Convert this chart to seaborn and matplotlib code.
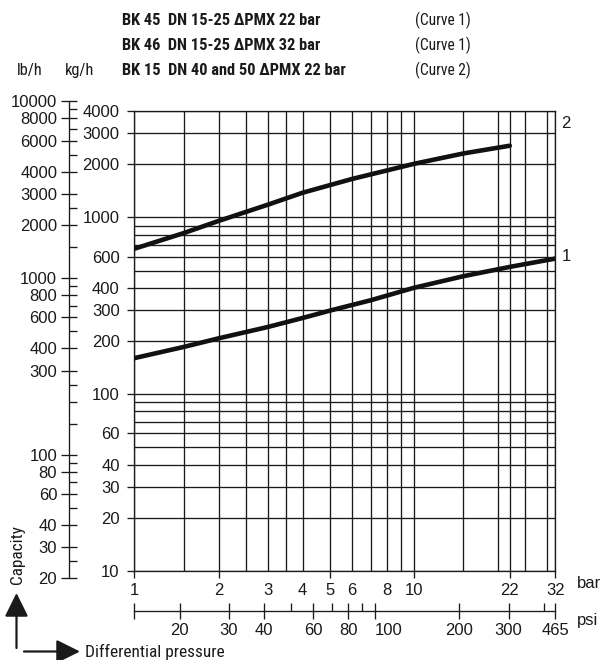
import matplotlib
matplotlib.use("Agg")
import numpy as np
import pandas as pd
import seaborn as sns
import matplotlib.pyplot as plt
from matplotlib.ticker import NullFormatter, NullLocator
from matplotlib.patches import FancyArrowPatch
from matplotlib.transforms import blended_transform_factory

# ---------------- data ----------------
bar_c1 = [1, 1.5, 2, 3, 4, 5, 7, 10, 15, 22, 32]
kg_c1 = [160, 185, 207, 240, 270, 297, 340, 400, 465, 525, 585]
bar_c2 = [1, 1.5, 2, 3, 4, 6, 10, 15, 22]
kg_c2 = [665, 815, 955, 1180, 1380, 1650, 2010, 2300, 2545]

x_grid = [1, 1.5, 2, 2.5, 3, 3.5, 4, 5, 6, 7, 8, 9, 10, 15, 20, 22, 25, 30, 32]
x_labels = [1, 2, 3, 4, 5, 6, 8, 10, 22, 32]
x_marks = [1, 2, 5, 10, 22, 32]
y_grid = [10, 20, 30, 40, 50, 60, 70, 80, 90, 100, 200, 300, 400, 500, 600,
          700, 800, 900, 1000, 2000, 3000, 4000]
y_labels = [10, 20, 30, 40, 60, 100, 200, 300, 400, 600, 1000, 2000, 3000, 4000]
lb_labels = [20, 30, 40, 60, 80, 100, 300, 400, 600, 800, 1000, 2000, 3000,
             4000, 6000, 8000, 10000]
lb_minor = [25, 50, 70, 90, 150, 200, 250, 500, 700, 900, 1500, 2500, 5000,
            7000, 9000]
psi_labels = [20, 30, 40, 60, 80, 100, 200, 300]
psi_minor = [50, 70, 90, 400]
psi_end = 465
PSI_PER_BAR = 13.77
KG_TO_LB = 2.2046

header_models = ["BK 45  DN 15-25 \u0394PMX 22 bar",
                 "BK 46  DN 15-25 \u0394PMX 32 bar",
                 "BK 15  DN 40 and 50 \u0394PMX 22 bar"]
header_curves = ["(Curve 1)", "(Curve 1)", "(Curve 2)"]
curve_names = ["1", "2"]
curve_label_y = [600, 3400]

df = pd.concat([
    pd.DataFrame({"bar": bar_c1, "kg": kg_c1, "curve": "1"}),
    pd.DataFrame({"bar": bar_c2, "kg": kg_c2, "curve": "2"}),
])

# ---------------- style ----------------
sns.set_theme(style="white")
FONT_R = ["Liberation Sans", "DejaVu Sans"]
FONT_N = ["Roboto Condensed", "DejaVu Sans"]
plt.rcParams["font.family"] = FONT_R
INK = "#1a1a1a"
GLW = 0.95

W, H = 603, 660
fig = plt.figure(figsize=(W / 100, H / 100), dpi=100)
fig.patch.set_facecolor("white")

L, R, T, Bt = 134.3, 555.3, 111.0, 571.0
ax = fig.add_axes([L / W, 1 - Bt / H, (R - L) / W, (Bt - T) / H])
ax.set_facecolor("white")

sns.lineplot(data=df, x="bar", y="kg", hue="curve", palette=["#111111", "#111111"],
             legend=False, lw=3.3, ax=ax, zorder=5)
ax.set_xscale("log")
ax.set_yscale("log")
ax.set_xlim(1, 32)
ax.set_ylim(10, 4000)
ax.set_xlabel("")
ax.set_ylabel("")

ax.xaxis.remove_overlapping_locs = False
ax.yaxis.remove_overlapping_locs = False
ax.set_xticks(x_labels, labels=[str(v) for v in x_labels])
ax.set_xticks(x_grid, minor=True)
ax.xaxis.set_minor_formatter(NullFormatter())
ax.set_yticks(y_labels, labels=[str(v) for v in y_labels])
ax.set_yticks(y_grid, minor=True)
ax.yaxis.set_minor_formatter(NullFormatter())

ax.tick_params(axis="x", which="major", length=0, pad=8.5, labelsize=12, colors=INK)
ax.tick_params(axis="y", which="major", length=5, width=GLW, direction="out",
               pad=5.5, labelsize=12, colors=INK, left=True)
ax.tick_params(which="minor", length=0)
ax.grid(False, which="major")
ax.grid(True, which="minor", axis="both", color=INK, lw=GLW)
for s in ax.spines.values():
    s.set_visible(True)
    s.set_color(INK)
    s.set_linewidth(GLW)

# tick marks below bar axis
secm = ax.secondary_xaxis("bottom")
secm.set_xticks(x_marks, labels=[""] * len(x_marks))
secm.xaxis.set_minor_locator(NullLocator())
secm.tick_params(length=5, width=GLW, direction="out", colors=INK)
secm.spines["bottom"].set_visible(False)

# psi axis
psi_axis_y = -(611 - Bt) / (Bt - T)
sec = ax.secondary_xaxis(psi_axis_y)
pos = [1] + [p / PSI_PER_BAR for p in psi_labels] + [32]
labs = [""] + [str(p) for p in psi_labels] + [str(psi_end)]
sec.set_xticks(pos, labels=labs)
sec.set_xticks([p / PSI_PER_BAR for p in psi_minor], minor=True)
sec.xaxis.set_minor_formatter(NullFormatter())
sec.tick_params(which="major", direction="inout", length=12, width=GLW, pad=2.5,
                labelsize=12, colors=INK)
sec.tick_params(which="minor", direction="in", length=6, width=GLW, colors=INK)
sec.spines["bottom"].set_color(INK)
sec.spines["bottom"].set_linewidth(GLW)
for t in sec.get_xticklabels():
    if t.get_text() == "100":
        t.set_horizontalalignment("left")

# lb/h axis
def frac(v):
    return (np.log10(v) - np.log10(10)) / (np.log10(4000) - np.log10(10))

b0 = 1 - Bt / H
hh = (Bt - T) / H
lb_bot = b0 + frac(lb_labels[0] / KG_TO_LB) * hh
lb_top = b0 + frac(lb_labels[-1] / KG_TO_LB) * hh
axl = fig.add_axes([69 / W, lb_bot, 0.0001, lb_top - lb_bot])
axl.set_facecolor("none")
axl.set_yscale("log")
axl.set_ylim(lb_labels[0], lb_labels[-1])
axl.set_yticks(lb_labels, labels=[str(v) for v in lb_labels])
axl.set_yticks(lb_minor, minor=True)
axl.yaxis.set_minor_formatter(NullFormatter())
axl.xaxis.set_visible(False)
for k in ["top", "right", "bottom"]:
    axl.spines[k].set_visible(False)
axl.spines["left"].set_color(INK)
axl.spines["left"].set_linewidth(GLW)
axl.tick_params(axis="y", which="major", direction="inout", length=11, width=GLW,
                pad=3, labelsize=12, colors=INK, left=True)
axl.tick_params(axis="y", which="minor", direction="in", length=6, width=GLW,
                colors=INK, left=True)

# curve labels
tr = blended_transform_factory(ax.transAxes, ax.transData)
for name, yv in zip(curve_names, curve_label_y):
    ax.text(1.026, yv, name, transform=tr, ha="center", va="center",
            fontsize=12, color=INK, clip_on=False)

# header
def px(x, y):
    return x / W, 1 - y / H

for i, (m, c) in enumerate(zip(header_models, header_curves)):
    yy = 20.5 + 25 * i
    fig.text(*px(122, yy), m, family=FONT_N, fontweight="bold", fontsize=11.8,
             ha="left", va="center", color=INK)
    fig.text(*px(415, yy), c, family=FONT_N, fontsize=11.2, ha="left",
             va="center", color=INK)
fig.text(*px(17, 70.5), "lb/h", family=FONT_N, fontsize=11.8, ha="left",
         va="center", color=INK)
fig.text(*px(65, 70.5), "kg/h", family=FONT_N, fontsize=11.8, ha="left",
         va="center", color=INK)

fig.text(*px(577, 584), "bar", fontsize=12, ha="left", va="center", color=INK)
fig.text(*px(577, 621), "psi", fontsize=12, ha="left", va="center", color=INK)

fig.text(*px(17.5, 555), "Capacity", family=FONT_N, fontsize=12.4, rotation=90,
         ha="center", va="center", color=INK)
fig.text(*px(85, 651.5), "Differential pressure", family=FONT_N, fontsize=12.4,
         ha="left", va="center", color=INK)

# arrows
arr_kw = dict(transform=fig.transFigure, color=INK, lw=1.6,
              arrowstyle="-|>,head_length=1.45,head_width=0.72",
              mutation_scale=10, shrinkA=0, shrinkB=0)
fig.add_artist(FancyArrowPatch(px(16.5, 648), px(16.5, 593), **arr_kw))
fig.add_artist(FancyArrowPatch(px(24, 651.5), px(80, 651.5), **arr_kw))

fig.savefig("out.png", dpi=100, facecolor="white")
